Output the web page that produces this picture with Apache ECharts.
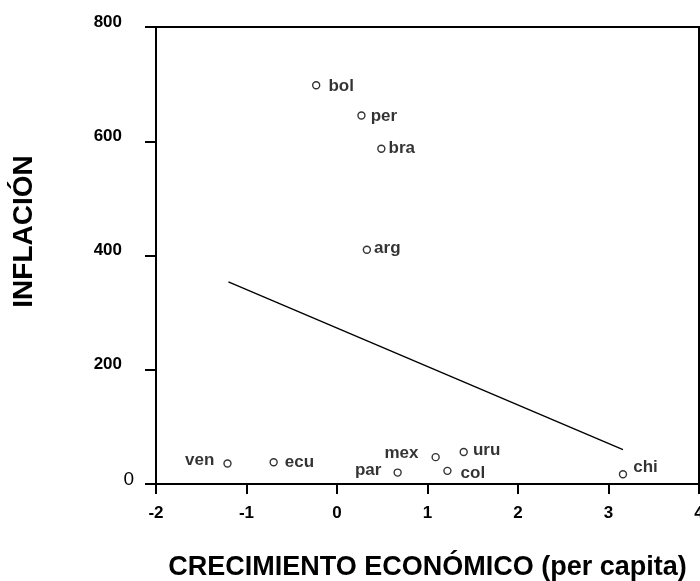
<!DOCTYPE html>
<html>
<head>
<meta charset="utf-8">
<script src="https://cdn.jsdelivr.net/npm/echarts@6/dist/echarts.min.js"></script>
<style>
  html, body { margin: 0; padding: 0; background: #fff; }
  #main { width: 700px; height: 581px; }
</style>
</head>
<body>
<div id="main"></div>
<script>
// países, crecimiento per capita (x) e inflación (y)
var countries = ['ven', 'ecu', 'par', 'mex', 'col', 'uru', 'chi', 'bol', 'per', 'bra', 'arg'];
var growth    = [-1.21, -0.70, 0.67, 1.09, 1.22, 1.40, 3.16, -0.23, 0.27, 0.49, 0.33];
var inflation = [36, 38, 20, 47, 23, 56, 17, 698, 645, 587, 410];

// recta de ajuste (extremos)
var fitX = [-1.20, 3.16];
var fitY = [354, 60];

var yTicks = [0, 200, 400, 600, 800];

// where each label sits relative to its point: side, distance, vertical offset
var labelPlace = {
    ven: ['left', 9, -3],
    ecu: ['right', 7, 0],
    par: ['left', 12, -2],
    mex: ['left', 13, -4],
    col: ['right', 9, 2],
    uru: ['right', 5, -2],
    chi: ['right', 6, -7],
    bol: ['right', 8, 1],
    per: ['right', 5, 1],
    bra: ['right', 3, 0],
    arg: ['right', 3, -1]
};

var font = 'Liberation Sans, Arial, sans-serif';

var chart = echarts.init(document.getElementById('main'));

var points = countries.map(function (c, i) {
    var p = labelPlace[c];
    return {
        name: c,
        value: [growth[i], inflation[i]],
        label: { position: p[0], distance: p[1], offset: [0, p[2]] }
    };
});

var fitData = fitX.map(function (x, i) { return [x, fitY[i]]; });

var option = {
    animation: false,
    backgroundColor: '#fff',
    grid: {
        left: 156, right: 1, top: 27, bottom: 97,
        outerBoundsMode: 'none',
        containLabel: false,
        show: true,
        borderColor: '#000',
        borderWidth: 2
    },
    xAxis: {
        type: 'value',
        min: -2, max: 4, interval: 1,
        name: 'CRECIMIENTO ECONÓMICO (per capita)',
        nameLocation: 'middle',
        nameGap: 70,
        nameTextStyle: { fontFamily: font, fontWeight: 'bold', fontSize: 27, color: '#000' },
        axisLine: { onZero: false, lineStyle: { color: '#000', width: 2 } },
        axisTick: { length: 10, lineStyle: { color: '#000', width: 2 } },
        axisLabel: { margin: 21, fontFamily: font, fontWeight: 'bold', fontSize: 17, color: '#000' },
        splitLine: { show: false }
    },
    yAxis: {
        type: 'value',
        min: yTicks[0], max: yTicks[yTicks.length - 1], interval: 200,
        name: 'INFLACIÓN',
        nameLocation: 'middle',
        nameRotate: 90,
        nameGap: 118,
        nameTextStyle: { fontFamily: font, fontWeight: 'bold', fontSize: 28, color: '#000', padding: [0, 0, 0, 48] },
        axisLine: { onZero: false, lineStyle: { color: '#000', width: 2 } },
        axisTick: { length: 11, lineStyle: { color: '#000', width: 2 } },
        axisLabel: {
            margin: 22,
            formatter: function (v) { return v === 0 ? '{z|0}' : '{b|' + v + '}'; },
            rich: {
                b: { fontFamily: font, fontWeight: 'bold', fontSize: 17, color: '#000', padding: [0, 12, 10, 0] },
                z: { fontFamily: font, fontWeight: 'normal', fontSize: 19, color: '#000', padding: [0, 0, 8, 0] }
            }
        },
        splitLine: { show: false }
    },
    series: [
        {
            type: 'line',
            data: fitData,
            symbol: 'none',
            lineStyle: { color: '#000', width: 1.4 },
            silent: true
        },
        {
            type: 'scatter',
            data: points,
            symbol: 'circle',
            symbolSize: 7,
            itemStyle: { color: '#fff', borderColor: '#000', borderWidth: 1.4 },
            label: {
                show: true,
                formatter: '{b}',
                fontFamily: font,
                fontWeight: 'bold',
                fontSize: 17,
                color: '#000'
            }
        }
    ]
};

chart.setOption(option);
</script>
</body>
</html>
